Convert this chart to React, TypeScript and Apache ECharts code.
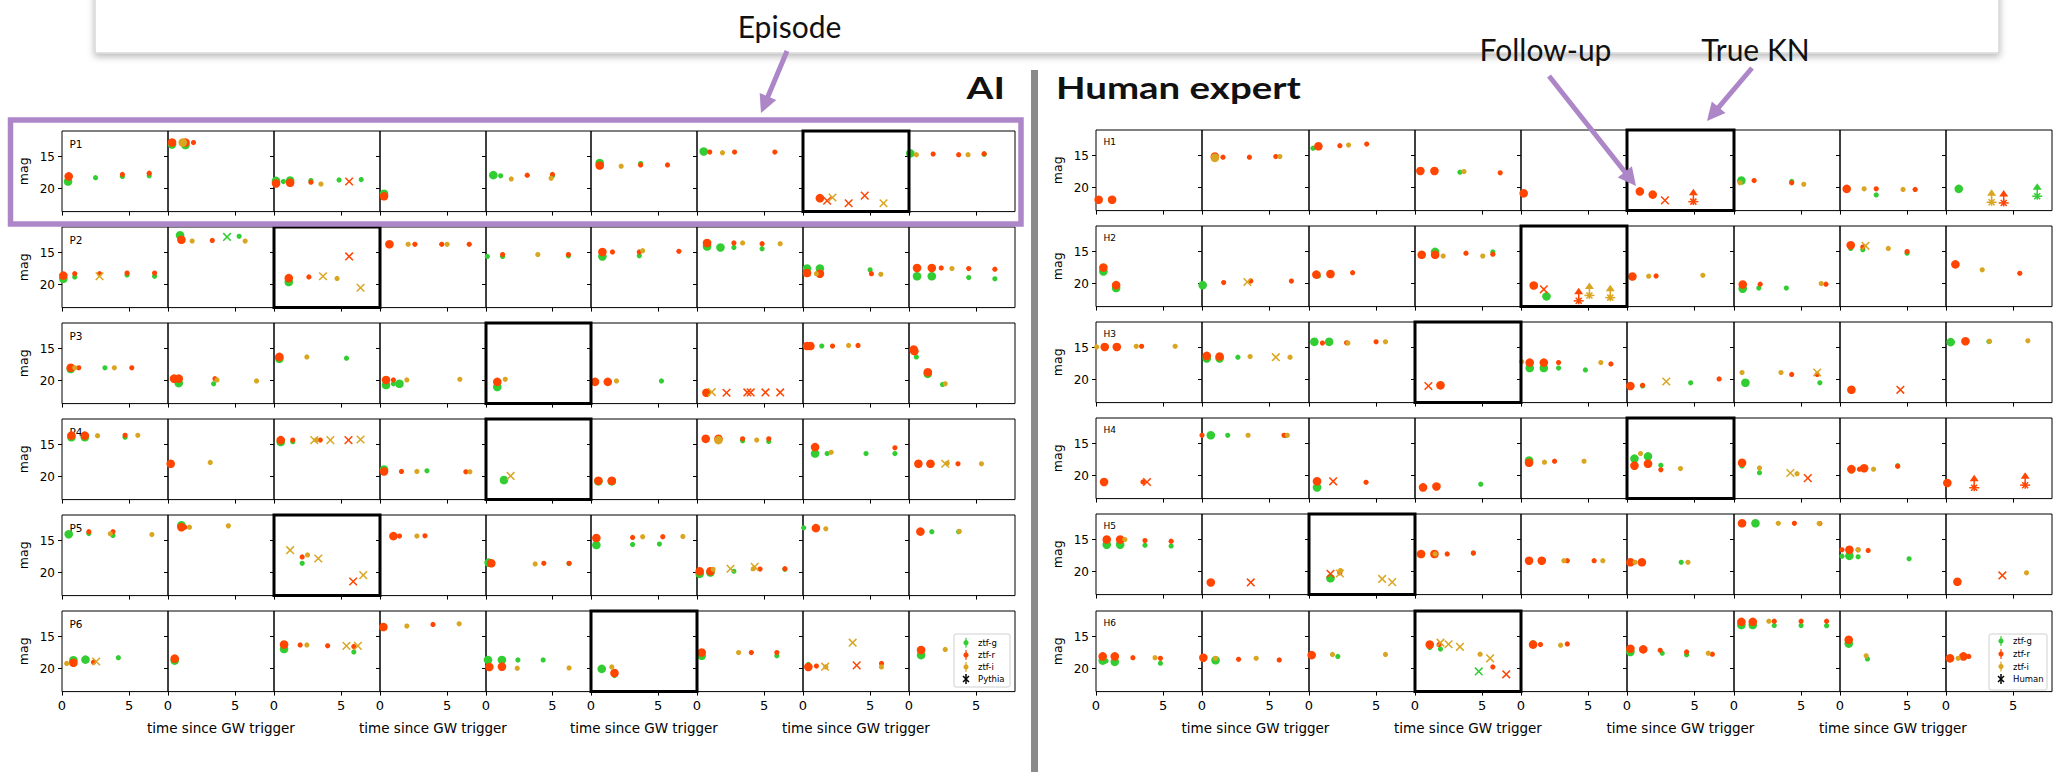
import React, { useEffect, useRef } from 'react';
import * as echarts from 'echarts';

type Pt = [number, number, number, string]; // [column, time, mag, code]
// code: g/r/i = band; upper case = first (large) detection; 'x' suffix = follow-up; 'l' suffix = upper limit

const P1: Pt[] = [
  [0,0.45,18.9,'G'],[0,0.5,18.1,'R'],[0,2.5,18.3,'g'],[0,4.5,17.8,'r'],[0,4.5,18.1,'g'],[0,6.5,17.6,'r'],[0,6.5,18.0,'g'],
  [1,0.3,13.1,'G'],[1,0.3,12.8,'R'],[1,1.1,12.8,'I'],[1,1.3,13.2,'G'],[1,1.3,12.8,'R'],[1,1.9,12.8,'r'],
  [2,0.15,18.8,'G'],[2,0.15,19.2,'R'],[2,0.7,18.9,'g'],[2,1.2,18.75,'G'],[2,1.2,19.1,'R'],[2,2.75,19.0,'r'],[2,2.75,18.75,'g'],[2,3.5,19.3,'i'],[2,4.85,18.65,'g'],[2,5.6,18.9,'rx'],[2,6.5,18.6,'g'],
  [3,0.3,20.8,'G'],[3,0.3,21.2,'R'],
  [4,0.55,17.9,'G'],[4,1.1,18.0,'g'],[4,1.9,18.5,'i'],[4,3.1,17.9,'r'],[4,4.9,18.4,'i'],[4,5.0,18.0,'g'],[4,5.0,17.8,'r'],
  [5,0.65,16.0,'G'],[5,0.65,16.4,'R'],[5,2.25,16.5,'i'],[5,3.7,16.1,'g'],[5,3.7,16.3,'r'],[5,5.7,16.3,'r'],
  [6,0.5,14.2,'G'],[6,0.95,14.3,'r'],[6,1.9,14.4,'i'],[6,2.8,14.3,'r'],[6,5.8,14.3,'r'],
  [7,1.26,21.5,'R'],[7,1.8,21.9,'rx'],[7,2.2,21.4,'ix'],[7,3.4,22.3,'rx'],[7,4.6,21.1,'rx'],[7,6.0,22.3,'ix'],
  [8,0.1,14.5,'G'],[8,0.55,14.7,'i'],[8,1.8,14.6,'r'],[8,3.7,14.7,'r'],[8,4.4,14.7,'i'],[8,5.6,14.65,'g'],[8,5.6,14.55,'r'],
];
const P2: Pt[] = [
  [0,0.1,18.6,'R'],[0,0.1,19.1,'G'],[0,0.95,18.3,'r'],[0,0.95,18.8,'g'],[0,2.8,18.7,'ix'],[0,2.8,18.3,'r'],[0,4.85,18.2,'r'],[0,4.85,18.5,'g'],[0,6.9,18.2,'r'],[0,6.9,18.7,'g'],
  [1,0.9,12.3,'G'],[1,1.0,13.0,'R'],[1,1.8,13.2,'i'],[1,3.3,13.1,'r'],[1,4.4,12.55,'gx'],[1,5.3,12.45,'g'],[1,5.75,13.2,'i'],
  [2,1.1,19.0,'R'],[2,1.1,19.6,'G'],[2,2.6,18.8,'r'],[2,3.65,18.7,'ix'],[2,4.7,19.05,'i'],[2,5.6,15.6,'rx'],[2,6.45,20.5,'ix'],
  [3,0.7,13.7,'R'],[3,2.1,13.7,'i'],[3,2.6,13.7,'r'],[3,4.6,13.7,'r'],[3,5.0,13.7,'i'],[3,6.65,13.7,'r'],
  [4,0.1,15.6,'g'],[4,1.25,15.3,'r'],[4,1.25,15.6,'g'],[4,3.9,15.3,'i'],[4,6.2,15.3,'r'],[4,6.2,15.5,'g'],
  [5,0.85,14.9,'R'],[5,0.85,15.6,'G'],[5,1.6,14.9,'r'],[5,3.6,14.9,'r'],[5,3.6,15.5,'g'],[5,3.85,14.7,'i'],[5,6.55,14.8,'r'],
  [6,0.75,13.5,'R'],[6,0.75,14.05,'G'],[6,1.75,14.2,'G'],[6,2.75,13.5,'r'],[6,2.75,14.2,'g'],[6,3.4,13.5,'i'],[6,4.85,13.6,'r'],[6,4.85,14.4,'g'],[6,6.2,13.6,'i'],
  [7,0.3,17.5,'G'],[7,0.3,18.2,'R'],[7,1.0,18.3,'i'],[7,1.26,17.5,'G'],[7,1.26,18.3,'R'],[7,5.0,17.7,'g'],[7,5.1,18.3,'r'],[7,5.8,18.4,'i'],
  [8,0.6,17.4,'R'],[8,0.6,18.7,'G'],[8,1.7,17.4,'R'],[8,1.7,18.7,'G'],[8,2.4,17.4,'r'],[8,3.2,17.5,'i'],[8,4.45,17.5,'r'],[8,4.45,18.9,'g'],[8,6.4,17.6,'r'],[8,6.4,19.1,'g'],
];
const P3: Pt[] = [
  [0,0.65,18.0,'R'],[0,0.65,18.2,'G'],[0,0.95,18.0,'i'],[0,1.25,18.0,'r'],[0,3.2,18.0,'g'],[0,3.9,18.0,'i'],[0,5.2,18.0,'r'],
  [1,0.45,19.7,'R'],[1,0.8,20.4,'G'],[1,0.8,19.7,'R'],[1,3.4,20.5,'g'],[1,3.5,19.7,'r'],[1,3.65,19.9,'i'],[1,6.6,20.05,'i'],
  [2,0.4,16.6,'G'],[2,0.4,16.3,'R'],[2,2.45,16.3,'i'],[2,5.4,16.5,'g'],
  [3,0.45,20.7,'G'],[3,0.45,19.9,'R'],[3,1.0,20.5,'g'],[3,1.0,19.9,'r'],[3,1.45,20.5,'G'],[3,2.0,19.9,'i'],[3,5.95,19.8,'i'],
  [4,0.85,21.0,'G'],[4,0.85,20.2,'R'],[4,1.45,19.8,'i'],
  [5,0.3,20.2,'R'],[5,1.25,20.2,'R'],[5,1.9,20.05,'i'],[5,5.25,20.05,'g'],
  [6,0.7,21.9,'R'],[6,1.1,21.8,'ix'],[6,2.2,21.9,'rx'],[6,3.75,21.85,'rx'],[6,4.0,21.85,'rx'],[6,5.1,21.85,'rx'],[6,6.2,21.85,'rx'],
  [7,0.3,14.6,'R'],[7,0.55,14.6,'R'],[7,1.4,14.6,'g'],[7,2.2,14.6,'r'],[7,3.4,14.5,'i'],[7,4.1,14.5,'r'],
  [8,0.35,15.15,'R'],[8,0.4,15.4,'R'],[8,0.55,16.3,'g'],[8,1.4,18.95,'G'],[8,1.4,18.7,'R'],[8,2.5,20.6,'g'],[8,2.7,20.5,'i'],
];
const P4: Pt[] = [
  [0,0.7,13.85,'G'],[0,0.7,13.6,'R'],[0,1.7,13.85,'G'],[0,1.7,13.6,'R'],[0,2.65,13.6,'i'],[0,4.7,13.85,'g'],[0,4.7,13.55,'r'],[0,5.65,13.55,'i'],
  [1,0.2,18.0,'R'],[1,3.15,17.8,'i'],
  [2,0.5,14.6,'G'],[2,0.5,14.3,'R'],[2,1.4,14.55,'g'],[2,1.4,14.3,'r'],[2,3.0,14.3,'ix'],[2,3.15,14.3,'i'],[2,3.45,14.3,'r'],[2,4.2,14.3,'ix'],[2,5.55,14.3,'rx'],[2,6.45,14.2,'ix'],
  [3,0.3,18.9,'G'],[3,0.3,19.2,'R'],[3,1.6,19.2,'r'],[3,2.75,19.2,'i'],[3,3.5,19.1,'g'],[3,6.4,19.25,'r'],[3,6.7,19.25,'i'],
  [4,1.35,20.55,'G'],[4,1.85,19.9,'ix'],
  [5,0.55,20.75,'G'],[5,0.55,20.65,'R'],[5,1.55,20.75,'G'],[5,1.55,20.65,'R'],
  [6,0.65,14.1,'R'],[6,1.6,14.3,'I'],[6,1.6,14.1,'R'],[6,3.4,14.4,'g'],[6,3.4,14.1,'r'],[6,4.45,14.3,'i'],[6,5.35,14.5,'g'],[6,5.35,14.1,'r'],
  [7,0.9,16.4,'G'],[7,0.9,15.4,'R'],[7,1.8,16.4,'g'],[7,2.1,16.2,'i'],[7,4.7,16.4,'g'],[7,6.85,16.4,'g'],[7,6.85,15.5,'r'],
  [8,0.7,18.0,'R'],[8,1.6,18.0,'R'],[8,2.7,18.0,'ix'],[8,2.85,17.9,'i'],[8,3.65,18.0,'r'],[8,5.4,18.0,'i'],
];
const P5: Pt[] = [
  [0,0.5,14.0,'G'],[0,2.0,13.9,'g'],[0,2.0,13.6,'r'],[0,3.6,13.95,'i'],[0,3.8,14.2,'g'],[0,3.8,13.6,'r'],[0,6.7,14.05,'i'],
  [1,1.0,12.6,'G'],[1,1.0,12.9,'R'],[1,1.25,12.9,'r'],[1,1.6,12.9,'i'],[1,4.5,12.7,'i'],
  [2,1.2,16.5,'ix'],[2,2.1,18.55,'g'],[2,2.1,17.55,'r'],[2,2.5,17.25,'i'],[2,3.3,17.8,'ix'],[2,5.9,21.4,'rx'],[2,6.65,20.4,'ix'],
  [3,1.0,14.3,'R'],[3,1.45,14.3,'r'],[3,2.75,14.3,'i'],[3,3.35,14.25,'r'],
  [4,0.2,18.45,'G'],[4,0.4,18.55,'R'],[4,3.7,18.65,'i'],[4,4.35,18.55,'r'],[4,6.25,18.6,'g'],[4,6.25,18.55,'r'],
  [5,0.4,15.7,'G'],[5,0.4,14.6,'R'],[5,3.1,15.6,'g'],[5,3.1,14.5,'r'],[5,3.85,14.4,'i'],[5,5.1,15.55,'g'],[5,5.35,14.4,'r'],[5,6.85,14.35,'i'],
  [6,0.2,20.2,'G'],[6,0.2,19.8,'R'],[6,1.0,20.0,'G'],[6,1.0,19.8,'R'],[6,1.2,19.5,'i'],[6,2.5,19.4,'ix'],[6,2.75,19.8,'g'],[6,4.3,19.1,'ix'],[6,4.2,19.4,'i'],[6,4.7,19.45,'r'],[6,6.55,19.5,'g'],[6,6.55,19.4,'r'],
  [7,0.05,13.0,'g'],[7,0.96,13.05,'R'],[7,1.7,13.15,'i'],
  [8,0.85,13.6,'R'],[8,1.7,13.6,'g'],[8,3.7,13.6,'g'],[8,3.75,13.55,'i'],
];
const P6: Pt[] = [
  [0,0.35,19.2,'i'],[0,0.85,18.7,'G'],[0,0.85,19.1,'R'],[0,1.75,18.6,'G'],[0,2.35,19.0,'r'],[0,2.55,18.9,'ix'],[0,4.2,18.3,'g'],
  [1,0.5,18.75,'G'],[1,0.5,18.45,'R'],
  [2,0.75,16.95,'G'],[2,0.75,16.25,'R'],[2,1.95,16.3,'r'],[2,2.45,16.3,'i'],[2,4.0,16.45,'r'],[2,5.4,16.45,'ix'],[2,5.95,17.4,'g'],[2,5.95,16.55,'r'],[2,6.25,16.45,'ix'],
  [3,0.25,13.5,'R'],[3,2.0,13.35,'i'],[3,3.95,13.1,'r'],[3,5.9,13.0,'i'],
  [4,0.15,18.65,'G'],[4,0.25,19.75,'R'],[4,1.2,18.65,'G'],[4,1.2,19.7,'R'],[4,2.4,18.65,'g'],[4,2.35,19.95,'i'],[4,4.3,18.65,'g'],[4,6.25,19.9,'i'],
  [5,0.8,20.05,'G'],[5,1.55,19.75,'i'],[5,1.75,21.1,'g'],[5,1.75,20.7,'R'],
  [6,0.35,18.0,'G'],[6,0.35,17.5,'R'],[6,3.1,17.5,'i'],[6,4.05,17.5,'r'],[6,5.95,18.0,'g'],[6,5.95,17.5,'r'],
  [7,0.4,19.35,'g'],[7,0.4,19.75,'R'],[7,1.0,19.6,'r'],[7,1.65,19.7,'ix'],[7,1.7,19.75,'i'],[7,3.7,15.95,'ix'],[7,4.0,19.5,'rx'],[7,5.85,19.2,'r'],[7,5.85,19.75,'i'],
  [8,0.9,17.9,'G'],[8,0.9,17.1,'R'],[8,2.7,17.0,'i'],
];

const H1: Pt[] = [
  [0,0.2,21.9,'R'],[0,1.2,21.9,'R'],
  [1,0.95,15.35,'I'],[1,0.95,15.15,'R'],[1,1.55,15.25,'r'],[1,3.5,15.25,'r'],[1,5.45,15.15,'r'],[1,5.75,15.15,'i'],
  [2,0.3,13.85,'g'],[2,0.7,13.55,'R'],[2,2.3,13.45,'r'],[2,2.95,13.35,'i'],[2,4.3,13.2,'r'],
  [3,0.4,17.4,'R'],[3,1.45,17.4,'R'],[3,3.35,17.6,'g'],[3,3.65,17.5,'i'],[3,6.35,17.7,'r'],
  [4,0.2,20.9,'R'],
  [5,0.95,20.6,'R'],[5,1.9,21.1,'R'],[5,2.8,22.0,'rx'],[5,4.9,22.2,'rl'],
  [6,0.55,18.9,'G'],[6,0.45,19.25,'i'],[6,1.5,18.9,'r'],[6,4.3,19.05,'g'],[6,4.3,19.25,'r'],[6,5.2,19.5,'i'],
  [7,0.5,20.2,'R'],[7,1.8,20.2,'i'],[7,2.7,21.15,'g'],[7,2.7,20.2,'r'],[7,4.7,20.3,'i'],[7,5.6,20.3,'r'],
  [8,0.95,20.2,'G'],[8,3.4,22.3,'il'],[8,4.3,22.4,'rl'],[8,6.8,21.35,'gl'],
];
const H2: Pt[] = [
  [0,0.55,17.5,'R'],[0,0.55,18.1,'G'],[0,1.5,20.25,'R'],[0,1.5,20.7,'G'],
  [1,0.05,20.25,'G'],[1,1.6,19.85,'r'],[1,3.35,19.75,'ix'],[1,3.6,19.6,'r'],[1,6.6,19.6,'r'],
  [2,0.55,18.6,'R'],[2,0.7,18.8,'g'],[2,1.6,18.5,'R'],[2,3.25,18.3,'r'],
  [3,0.5,15.5,'R'],[3,1.5,15.05,'G'],[3,1.5,15.5,'R'],[3,2.1,15.7,'i'],[3,3.8,15.25,'r'],[3,5.05,15.7,'i'],[3,5.8,15.05,'g'],[3,5.8,15.4,'r'],
  [4,0.95,20.3,'R'],[4,1.7,20.9,'rx'],[4,1.9,22.0,'G'],[4,4.3,22.7,'rl'],[4,5.1,21.85,'il'],[4,6.65,22.2,'il'],
  [5,0.4,18.9,'R'],[5,1.6,18.85,'i'],[5,2.15,18.8,'r'],[5,5.6,18.7,'i'],
  [6,0.65,20.15,'R'],[6,0.65,20.8,'G'],[6,1.85,20.7,'g'],[6,1.95,20.1,'r'],[6,3.9,20.7,'g'],[6,6.5,20.0,'i'],[6,6.85,20.1,'r'],
  [7,0.8,14.0,'R'],[7,0.8,14.5,'g'],[7,1.7,14.3,'r'],[7,1.7,14.7,'g'],[7,1.9,14.1,'ix'],[7,3.6,14.5,'i'],[7,5.0,15.0,'r'],[7,5.0,15.25,'g'],
  [8,0.7,17.0,'R'],[8,2.7,17.85,'i'],[8,5.5,18.4,'r'],
];
const H3: Pt[] = [
  [0,0.05,14.9,'i'],[0,0.65,14.9,'R'],[0,1.55,14.9,'R'],[0,3.0,14.8,'i'],[0,3.4,14.8,'r'],[0,5.9,14.8,'i'],
  [1,0.35,16.7,'G'],[1,0.35,16.3,'R'],[1,1.3,16.7,'G'],[1,1.3,16.4,'R'],[1,2.65,16.5,'g'],[1,3.55,16.4,'i'],[1,5.45,16.5,'ix'],[1,6.5,16.5,'i'],
  [2,0.4,14.1,'G'],[2,1.0,14.3,'r'],[2,1.5,14.1,'G'],[2,2.8,14.25,'r'],[2,2.9,14.3,'i'],[2,5.0,14.1,'r'],[2,5.7,14.1,'i'],
  [3,1.0,21.0,'rx'],[3,1.9,20.9,'R'],
  [4,0.05,17.2,'i'],[4,0.65,18.2,'G'],[4,0.65,17.35,'R'],[4,1.7,18.2,'G'],[4,1.7,17.35,'R'],[4,2.8,18.2,'g'],[4,2.8,17.35,'r'],[4,4.8,18.5,'g'],[4,5.95,17.35,'i'],[4,6.7,17.55,'r'],
  [5,0.25,21.0,'R'],[5,1.15,21.0,'g'],[5,1.15,20.9,'r'],[5,2.9,20.3,'ix'],[5,4.7,20.5,'g'],[5,6.8,19.9,'r'],
  [6,0.6,18.9,'i'],[6,0.85,20.5,'G'],[6,3.5,18.9,'i'],[6,4.3,19.2,'r'],[6,6.2,18.9,'ix'],[6,6.2,19.2,'r'],[6,6.4,20.5,'g'],
  [7,0.85,21.6,'R'],[7,4.5,21.6,'rx'],
  [8,0.35,14.15,'G'],[8,1.45,14.0,'R'],[8,3.2,14.05,'g'],[8,3.25,14.0,'i'],[8,6.1,13.95,'i'],
];
const H4: Pt[] = [
  [0,0.6,21.0,'R'],[0,3.5,21.0,'r'],[0,3.8,21.0,'rx'],
  [1,0.0,13.7,'r'],[1,0.65,13.7,'G'],[1,1.9,13.7,'g'],[1,3.4,13.7,'i'],[1,6.15,13.75,'g'],[1,6.05,13.7,'r'],[1,6.3,13.7,'i'],
  [2,0.6,21.85,'G'],[2,0.6,20.9,'R'],[2,1.8,20.9,'rx'],[2,4.25,21.05,'r'],
  [3,0.6,21.85,'R'],[3,1.6,21.7,'R'],[3,4.9,21.35,'g'],
  [4,0.6,17.65,'G'],[4,0.6,18.0,'R'],[4,1.75,17.9,'i'],[4,2.5,17.75,'r'],[4,4.7,17.75,'i'],
  [5,0.55,17.35,'G'],[5,0.55,18.45,'R'],[5,1.0,16.55,'i'],[5,1.55,17.0,'G'],[5,1.55,18.15,'R'],[5,2.5,18.4,'g'],[5,2.5,19.1,'r'],[5,3.95,18.9,'i'],
  [6,0.6,18.0,'R'],[6,0.6,18.5,'g'],[6,1.9,18.8,'i'],[6,1.9,19.55,'g'],[6,4.2,19.6,'ix'],[6,4.7,19.7,'i'],[6,5.5,20.4,'rx'],
  [7,0.85,19.0,'R'],[7,0.85,19.3,'g'],[7,1.45,19.0,'r'],[7,1.8,18.85,'R'],[7,2.5,19.0,'i'],[7,4.3,18.45,'g'],[7,4.3,18.55,'r'],
  [8,0.1,21.15,'R'],[8,2.1,21.9,'rl'],[8,5.9,21.5,'rl'],
];
const H5: Pt[] = [
  [0,0.8,15.0,'R'],[0,0.8,15.8,'G'],[0,1.8,15.0,'R'],[0,1.8,15.8,'G'],[0,2.15,15.0,'i'],[0,3.65,15.15,'r'],[0,3.65,15.9,'g'],[0,5.6,15.25,'r'],[0,5.6,16.0,'g'],
  [1,0.65,21.7,'R'],[1,3.6,21.7,'rx'],
  [2,1.6,21.05,'G'],[2,1.6,20.35,'rx'],[2,2.3,20.2,'r'],[2,2.3,20.3,'ix'],[2,2.35,19.85,'i'],[2,5.45,21.15,'ix'],[2,6.2,21.65,'ix'],
  [3,0.45,17.25,'R'],[3,1.45,17.25,'R'],[3,1.5,17.25,'i'],[3,2.4,17.25,'r'],[3,4.35,17.1,'g'],[3,4.35,17.1,'r'],
  [4,0.6,18.3,'R'],[4,1.55,18.3,'R'],[4,3.2,18.3,'i'],[4,3.45,18.3,'r'],[4,5.45,18.3,'r'],[4,6.1,18.3,'i'],
  [5,0.25,18.55,'R'],[5,0.6,18.55,'i'],[5,1.1,18.55,'R'],[5,4.0,18.55,'g'],[5,4.5,18.55,'i'],
  [6,0.6,12.45,'R'],[6,1.6,12.45,'G'],[6,3.3,12.45,'i'],[6,4.5,12.45,'r'],[6,6.35,12.5,'i'],[6,6.4,12.5,'r'],
  [7,0.15,16.6,'r'],[7,0.15,17.6,'g'],[7,0.7,16.6,'R'],[7,0.7,17.55,'G'],[7,1.35,16.6,'r'],[7,1.35,16.6,'i'],[7,1.35,17.7,'g'],[7,2.1,16.7,'r'],[7,5.15,18.0,'g'],
  [8,0.85,21.6,'R'],[8,4.2,20.6,'rx'],[8,6.0,20.2,'i'],
];
const H6: Pt[] = [
  [0,0.5,18.75,'G'],[0,0.5,18.1,'R'],[0,0.75,18.8,'g'],[0,1.4,18.95,'G'],[0,1.4,18.1,'R'],[0,2.75,18.3,'r'],[0,4.4,18.3,'i'],[0,4.8,18.4,'r'],[0,4.8,19.15,'g'],
  [1,0.1,18.3,'R'],[1,0.1,18.55,'g'],[1,1.0,18.7,'G'],[1,1.0,18.4,'i'],[1,2.7,18.55,'r'],[1,4.0,18.4,'i'],[1,5.7,18.65,'r'],
  [2,0.2,17.9,'R'],[2,1.75,17.8,'i'],[2,2.15,18.1,'g'],[2,5.7,17.8,'i'],
  [3,1.1,16.25,'R'],[3,1.1,16.7,'g'],[3,1.8,16.25,'r'],[3,1.9,15.95,'ix'],[3,1.9,16.95,'g'],[3,2.5,16.2,'ix'],[3,3.35,16.6,'ix'],[3,4.85,17.75,'i'],[3,4.75,20.45,'gx'],[3,5.6,18.4,'ix'],[3,5.8,19.75,'r'],[3,6.8,20.9,'rx'],
  [4,0.9,15.95,'g'],[4,0.9,16.25,'R'],[4,1.45,16.25,'r'],[4,2.95,16.35,'i'],[4,3.45,16.15,'r'],
  [5,0.25,17.4,'G'],[5,0.25,16.9,'R'],[5,1.2,17.0,'R'],[5,2.45,17.15,'r'],[5,2.6,17.6,'g'],[5,4.4,17.4,'r'],[5,4.4,17.85,'g'],[5,6.0,17.6,'i'],[5,6.3,17.75,'r'],
  [6,0.55,13.2,'G'],[6,0.55,12.7,'R'],[6,1.4,13.2,'G'],[6,1.4,12.7,'R'],[6,2.6,12.6,'i'],[6,3.0,12.6,'r'],[6,3.0,13.25,'g'],[6,5.0,12.6,'r'],[6,5.0,13.25,'g'],[6,6.9,12.6,'r'],[6,6.9,13.3,'g'],
  [7,0.65,16.1,'G'],[7,0.65,15.5,'R'],[7,1.95,18.0,'i'],[7,2.05,18.5,'g'],
  [8,0.3,18.4,'R'],[8,0.3,18.6,'g'],[8,0.9,18.4,'i'],[8,1.3,18.1,'R'],[8,1.7,18.1,'r'],
];

const AI_ROWS = ['P1', 'P2', 'P3', 'P4', 'P5', 'P6'];
const HUMAN_ROWS = ['H1', 'H2', 'H3', 'H4', 'H5', 'H6'];
const AI_TRUE_KN = [7, 2, 4, 4, 2, 5];
const HUMAN_TRUE_KN = [5, 4, 3, 5, 2, 3];
const BAND_NAMES = ['ztf-g', 'ztf-r', 'ztf-i'];
const X_TICKS = [0, 5];
const Y_TICKS = [15, 20];
const X_LABEL = 'time since GW trigger';

const BAND_COLORS = ['#32CD32', '#FF4500', '#DAA520'];
const PURPLE = '#AD86C8';
const MPL_FONT = 'DejaVu Sans';
const NOTE_FONT = 'Lato';

function decode(code: string): [number, number] {
  const b = 'gri'.indexOf(code[0].toLowerCase());
  let k: number;
  if (code.length > 1) k = code[1] === 'x' ? 2 : 3;
  else k = code === code.toUpperCase() ? 1 : 0;
  return [b, k];
}

function renderItem(_params: any, api: any) {
  const p = api.coord([api.value(0), api.value(1)]);
  const x = p[0], y = p[1];
  const color = BAND_COLORS[api.value(2)];
  const kind = api.value(3);
  if (kind === 0 || kind === 1) {
    return { type: 'circle', shape: { cx: x, cy: y, r: kind === 1 ? 4.3 : 2.6 }, style: { fill: color } };
  }
  const ln = (x1: number, y1: number, x2: number, y2: number) => ({
    type: 'line', shape: { x1, y1, x2, y2 }, style: { stroke: color, lineWidth: 1.5 },
  });
  if (kind === 2) {
    return { type: 'group', children: [ln(x - 3.8, y - 3.8, x + 3.8, y + 3.8), ln(x - 3.8, y + 3.8, x + 3.8, y - 3.8)] };
  }
  return {
    type: 'group',
    children: [
      ln(x, y, x, y - 8),
      { type: 'polygon', shape: { points: [[x, y - 13], [x - 4.5, y - 6.5], [x + 4.5, y - 6.5]] }, style: { fill: color } },
      ln(x - 5, y, x + 5, y),
      ln(x - 3, y - 3, x + 3, y + 3),
      ln(x - 3, y + 3, x + 3, y - 3),
      ln(x, y - 3.5, x, y + 3.5),
    ],
  };
}

function arrow(x1: number, y1: number, x2: number, y2: number) {
  const dx = x2 - x1, dy = y2 - y1, len = Math.hypot(dx, dy);
  const ux = dx / len, uy = dy / len;
  const hl = 18, hw = 9;
  const bx = x2 - ux * hl, by = y2 - uy * hl;
  return [
    { type: 'line', z: 100, shape: { x1, y1, x2: bx + ux * 3, y2: by + uy * 3 }, style: { stroke: PURPLE, lineWidth: 5 } },
    { type: 'polygon', z: 100, shape: { points: [[x2, y2], [bx - uy * hw, by + ux * hw], [bx + uy * hw, by - ux * hw]] }, style: { fill: PURPLE } },
  ];
}

function legend(x: number, y: number, w: number, h: number, last: string, rowsY: number[]) {
  const els: any[] = [
    { type: 'rect', z: 100, shape: { x, y, width: w, height: h, r: 2 }, style: { fill: 'rgba(255,255,255,0.8)', stroke: '#d0d0d0', lineWidth: 1 } },
  ];
  const mx = x + 12, tx = x + 24;
  BAND_NAMES.forEach((n, i) => {
    const cy = rowsY[i];
    els.push({ type: 'line', z: 101, shape: { x1: mx, y1: cy - 5, x2: mx, y2: cy + 5 }, style: { stroke: BAND_COLORS[i], lineWidth: 1.2 } });
    els.push({ type: 'circle', z: 101, shape: { cx: mx, cy, r: 2.6 }, style: { fill: BAND_COLORS[i] } });
    els.push({ type: 'text', z: 101, x: tx, y: cy, style: { text: n, fontSize: 8.5, fontFamily: MPL_FONT, fill: '#000', textAlign: 'left', textVerticalAlign: 'middle' } });
  });
  const cy = rowsY[3];
  const blk = (x1: number, y1: number, x2: number, y2: number) => ({ type: 'line', z: 101, shape: { x1, y1, x2, y2 }, style: { stroke: '#000', lineWidth: 1.5 } });
  els.push(blk(mx - 3, cy - 3, mx + 3, cy + 3), blk(mx - 3, cy + 3, mx + 3, cy - 3), blk(mx, cy - 5, mx, cy + 5));
  els.push({ type: 'text', z: 101, x: tx, y: cy, style: { text: last, fontSize: 8.5, fontFamily: MPL_FONT, fill: '#000', textAlign: 'left', textVerticalAlign: 'middle' } });
  return els;
}

export default function App() {
  const ref = useRef<HTMLDivElement>(null);
  useEffect(() => {
    if (!ref.current) return;
    const chart = echarts.init(ref.current, null, { renderer: 'svg' });

    const panels = [
      { rows: [P1, P2, P3, P4, P5, P6], labels: AI_ROWS, kn: AI_TRUE_KN, x0: 62, dx: 105.875, y0: 131, dy: 96, h: 80.6, magX: 23, labelFont: 10.5, last: 'Pythia' },
      { rows: [H1, H2, H3, H4, H5, H6], labels: HUMAN_ROWS, kn: HUMAN_TRUE_KN, x0: 1096, dx: 106.25, y0: 129.6, dy: 96.2, h: 80.6, magX: 1057, labelFont: 9, last: 'Human' },
    ];

    const grids: any[] = [], xAxes: any[] = [], yAxes: any[] = [], series: any[] = [];
    const graphics: any[] = [];

    panels.forEach((pn) => {
      pn.rows.forEach((rowData, r) => {
        const top = Math.round(pn.y0 + r * pn.dy);
        const bottomRow = r === pn.rows.length - 1;
        for (let c = 0; c < 9; c++) {
          const gi = grids.length;
          const left = Math.round(pn.x0 + c * pn.dx);
          const right = Math.round(pn.x0 + (c + 1) * pn.dx);
          const kn = pn.kn[r] === c;
          grids.push({
            left, top, width: right - left, height: pn.h, show: true,
            borderColor: '#000', borderWidth: kn ? 3 : 1, backgroundColor: 'transparent',
            containLabel: false, outerBoundsMode: 'none', z: kn ? 3 : 1,
          });
          xAxes.push({
            gridIndex: gi, type: 'value', min: 0, max: 7.9,
            axisLine: { show: false }, splitLine: { show: false },
            axisTick: { show: true, length: 4, lineStyle: { color: '#000', width: 1 }, customValues: X_TICKS },
            axisLabel: { show: bottomRow, customValues: X_TICKS, fontSize: 13, color: '#000', fontFamily: MPL_FONT, margin: 7 },
          });
          yAxes.push({
            gridIndex: gi, type: 'value', inverse: true, min: 11, max: 23.6,
            axisLine: { show: false }, splitLine: { show: false },
            axisTick: { show: true, length: 4, lineStyle: { color: '#000', width: 1 }, customValues: Y_TICKS },
            axisLabel: { show: c === 0, customValues: Y_TICKS, fontSize: 12, color: '#000', fontFamily: MPL_FONT, margin: 7 },
          });
          const pts = rowData
            .filter((p) => p[0] === c)
            .map((p) => { const [b, k] = decode(p[3]); return [p[1], p[2], b, k]; })
            .sort((a, b) => {
              const ka = (a[3] >= 2 ? 100 : 0) + a[2] * 10 + (a[3] === 1 ? 0 : 1);
              const kb = (b[3] >= 2 ? 100 : 0) + b[2] * 10 + (b[3] === 1 ? 0 : 1);
              return ka - kb;
            });
          series.push({
            type: 'custom', coordinateSystem: 'cartesian2d', xAxisIndex: gi, yAxisIndex: gi,
            data: pts, encode: { x: 0, y: 1 }, renderItem, silent: true, clip: false, z: 2,
          });
          if (bottomRow && c % 2 === 1) {
            graphics.push({
              type: 'text', x: (left + right) / 2, y: 728,
              style: { text: X_LABEL, fontSize: 13.5, fontFamily: MPL_FONT, fill: '#000', textAlign: 'center', textVerticalAlign: 'middle' },
            });
          }
        }
        graphics.push({
          type: 'text', x: pn.x0 + 7.5, y: top + 7.5,
          style: { text: pn.labels[r], fontSize: pn.labelFont, fontFamily: MPL_FONT, fill: '#000', textAlign: 'left', textVerticalAlign: 'top' },
        });
        graphics.push({
          type: 'text', x: pn.magX, y: top + pn.h / 2, rotation: Math.PI / 2,
          style: { text: 'mag', fontSize: 12.5, fontFamily: MPL_FONT, fill: '#000', textAlign: 'center', textVerticalAlign: 'middle' },
        });
      });
    });

    graphics.push(
      { type: 'rect', z: 0, shape: { x: 95, y: -20, width: 1904, height: 73 }, style: { fill: '#fff', stroke: '#d8d8d8', lineWidth: 1.5, shadowBlur: 7, shadowColor: 'rgba(0,0,0,0.28)', shadowOffsetY: 3 } },
      { type: 'rect', z: 10, shape: { x: 10.5, y: 120, width: 1010.5, height: 104 }, style: { fill: 'none', stroke: PURPLE, lineWidth: 5.5 } },
      { type: 'line', z: 10, shape: { x1: 1034.5, y1: 70, x2: 1034.5, y2: 772 }, style: { stroke: '#8a8a8a', lineWidth: 7 } },
      ...arrow(787, 51, 761, 113),
      ...arrow(1549, 76, 1636, 186),
      ...arrow(1752, 68, 1707, 121),
      { type: 'text', z: 20, x: 789.5, y: 26, style: { text: 'Episode', fontSize: 30, fontFamily: NOTE_FONT, fill: '#111', textAlign: 'center', textVerticalAlign: 'middle' } },
      { type: 'text', z: 20, x: 1545.5, y: 48.5, style: { text: 'Follow-up', fontSize: 30, fontFamily: NOTE_FONT, fill: '#111', textAlign: 'center', textVerticalAlign: 'middle' } },
      { type: 'text', z: 20, x: 1755.5, y: 48.5, style: { text: 'True KN', fontSize: 30, fontFamily: NOTE_FONT, fill: '#111', textAlign: 'center', textVerticalAlign: 'middle' } },
      { type: 'text', z: 20, x: 1005, y: 87, scaleX: 1.25, style: { text: 'AI', fontSize: 31, fontWeight: 'bold', fontFamily: NOTE_FONT, fill: '#111', textAlign: 'right', textVerticalAlign: 'middle' } },
      { type: 'text', z: 20, x: 1056, y: 87, scaleX: 1.24, style: { text: 'Human expert', fontSize: 31, fontWeight: 'bold', fontFamily: NOTE_FONT, fill: '#111', textAlign: 'left', textVerticalAlign: 'middle' } },
      ...legend(954, 634, 56, 53, 'Pythia', [642.7, 655, 667, 679]),
      ...legend(1989, 634, 58, 56, 'Human', [641, 654, 666.5, 679]),
    );

    chart.setOption({
      animation: false,
      backgroundColor: '#fff',
      grid: grids,
      xAxis: xAxes,
      yAxis: yAxes,
      series,
      graphic: { elements: graphics },
    });
    return () => chart.dispose();
  }, []);
  return <div ref={ref} style={{ position: 'absolute', left: 0, top: 0, width: 2053, height: 772, background: '#fff' }} />;
}
